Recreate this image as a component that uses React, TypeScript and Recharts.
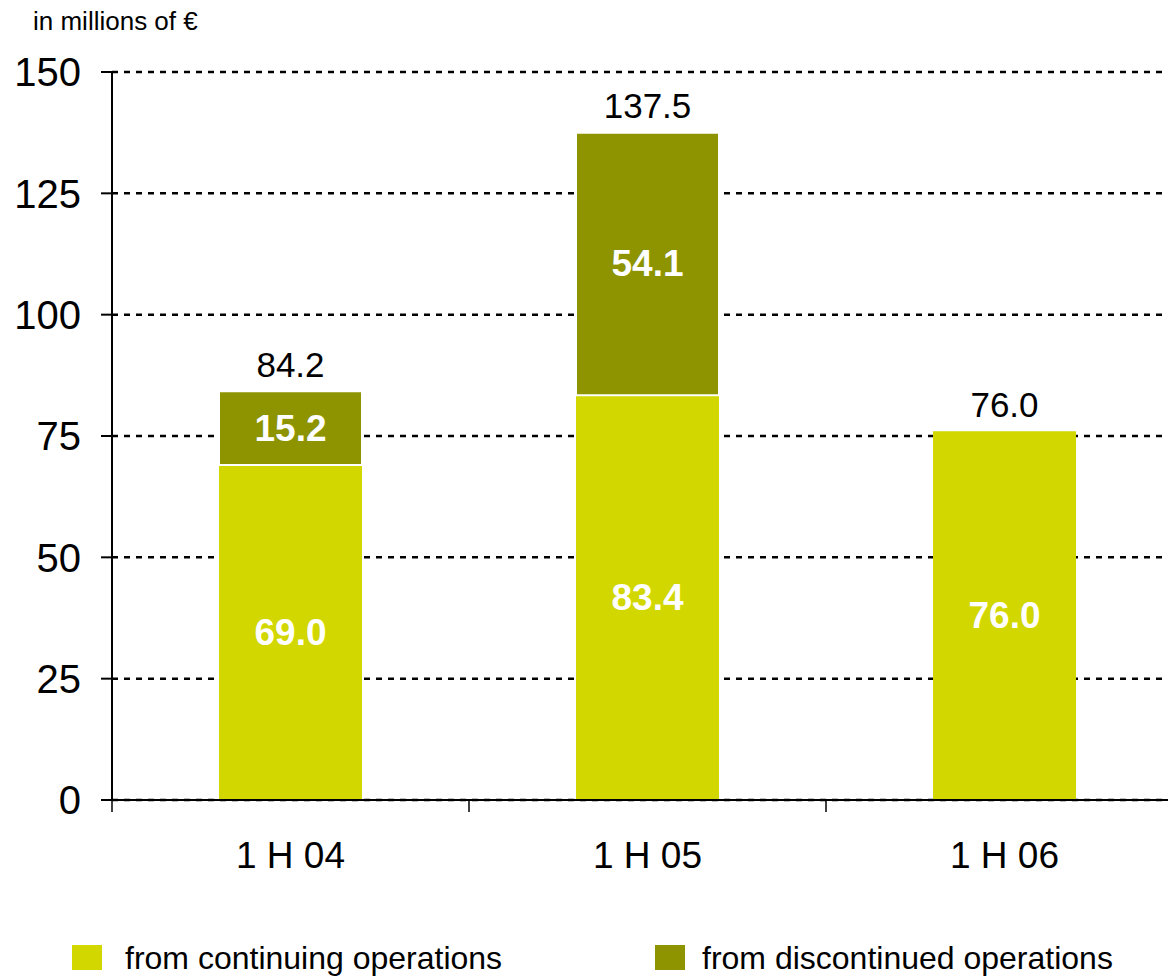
import { BarChart, Bar, XAxis, YAxis, CartesianGrid, LabelList } from 'recharts';

const periods = ['1 H 04', '1 H 05', '1 H 06'];
const continuing = [69.0, 83.4, 76.0];
const discontinued = [15.2, 54.1, 0];
const yTicks = [0, 25, 50, 75, 100, 125, 150];

const COLORS = {
  continuing: '#D2D700',
  discontinued: '#8E9400'
};

const FONT = '"Liberation Sans", Arial, Helvetica, sans-serif';

const CHART_W = 1183;
const CHART_H = 977;
const Y_AXIS_W = 112;

const data = periods.map((period, i) => ({
  period,
  continuing: continuing[i],
  discontinued: discontinued[i],
  total: Math.round((continuing[i] + discontinued[i]) * 10) / 10
}));

// category label centred in the band, tick mark on the left band edge
const CategoryTick = (props: any) => {
  const { x, y, payload } = props;
  const half = payload?.offset ?? (CHART_W - Y_AXIS_W) / periods.length / 2;
  return (
    <g>
      <line x1={x - half} x2={x - half} y1={y} y2={y + 12} stroke="#000" strokeWidth={1.5} />
      <text x={x} y={y + 55} textAnchor="middle" dominantBaseline="central" fontSize={37} fill="#000">
        {payload.value}
      </text>
    </g>
  );
};

const InsideLabel = (props: any) => {
  const { x, y, width, height, value } = props;
  if (!value) return null;
  return (
    <text
      x={x + width / 2}
      y={y + height / 2}
      textAnchor="middle"
      dominantBaseline="central"
      fontSize={37}
      fontWeight="bold"
      fill="#fff"
    >
      {Number(value).toFixed(1)}
    </text>
  );
};

// total sits above whichever segment is on top of the stack
const makeTotalLabel = (onTop: (i: number) => boolean) => (props: any) => {
  const { x, y, width, value, index } = props;
  if (!onTop(index)) return null;
  return (
    <text x={x + width / 2} y={y - 27} textAnchor="middle" dominantBaseline="central" fontSize={35} fill="#000">
      {Number(value).toFixed(1)}
    </text>
  );
};

const TotalOnContinuing = makeTotalLabel((i) => !discontinued[i]);
const TotalOnDiscontinued = makeTotalLabel((i) => !!discontinued[i]);

const legendItems = [
  { label: 'from continuing operations', color: COLORS.continuing, left: 72, textLeft: 125 },
  { label: 'from discontinued operations', color: COLORS.discontinued, left: 655, textLeft: 702 }
];

export default function App() {
  return (
    <div
      style={{
        position: 'absolute',
        left: 0,
        top: 0,
        width: 1168,
        height: CHART_H,
        overflow: 'hidden',
        background: '#fff',
        fontFamily: FONT
      }}
    >
      <div style={{ position: 'absolute', left: 33, top: 6, fontSize: 26, lineHeight: '30px', color: '#000' }}>
        in millions of €
      </div>

      <BarChart
        width={CHART_W}
        height={CHART_H}
        data={data}
        margin={{ top: 72, right: 0, bottom: 117, left: 0 }}
      >
        <CartesianGrid vertical={false} stroke="#000" strokeWidth={2.5} strokeDasharray="6 6" />
        <XAxis
          dataKey="period"
          height={60}
          axisLine={{ stroke: '#000', strokeWidth: 2 }}
          tickLine={false}
          tickSize={0}
          tickMargin={0}
          tick={<CategoryTick />}
          interval={0}
        />
        <YAxis
          width={Y_AXIS_W}
          domain={[0, 150]}
          ticks={yTicks}
          interval={0}
          axisLine={{ stroke: '#000', strokeWidth: 2 }}
          tickLine={{ stroke: '#000', strokeWidth: 2 }}
          tickSize={11}
          tickMargin={20}
          tick={{ fontSize: 40, fill: '#000' }}
        />
        <Bar dataKey="continuing" stackId="a" fill={COLORS.continuing} barSize={143} isAnimationActive={false}>
          <LabelList dataKey="continuing" content={<InsideLabel />} />
          <LabelList dataKey="total" content={<TotalOnContinuing />} />
        </Bar>
        <Bar
          dataKey="discontinued"
          stackId="a"
          fill={COLORS.discontinued}
          stroke="#fff"
          strokeWidth={2}
          barSize={143}
          isAnimationActive={false}
        >
          <LabelList dataKey="discontinued" content={<InsideLabel />} />
          <LabelList dataKey="total" content={<TotalOnDiscontinued />} />
        </Bar>
      </BarChart>

      {legendItems.map((item) => (
        <div key={item.label}>
          <div
            style={{
              position: 'absolute',
              left: item.left,
              top: 945,
              width: 30,
              height: 25,
              background: item.color
            }}
          />
          <div
            style={{
              position: 'absolute',
              left: item.textLeft,
              top: 938,
              fontSize: 32,
              lineHeight: '40px',
              color: '#000',
              whiteSpace: 'nowrap'
            }}
          >
            {item.label}
          </div>
        </div>
      ))}
    </div>
  );
}
